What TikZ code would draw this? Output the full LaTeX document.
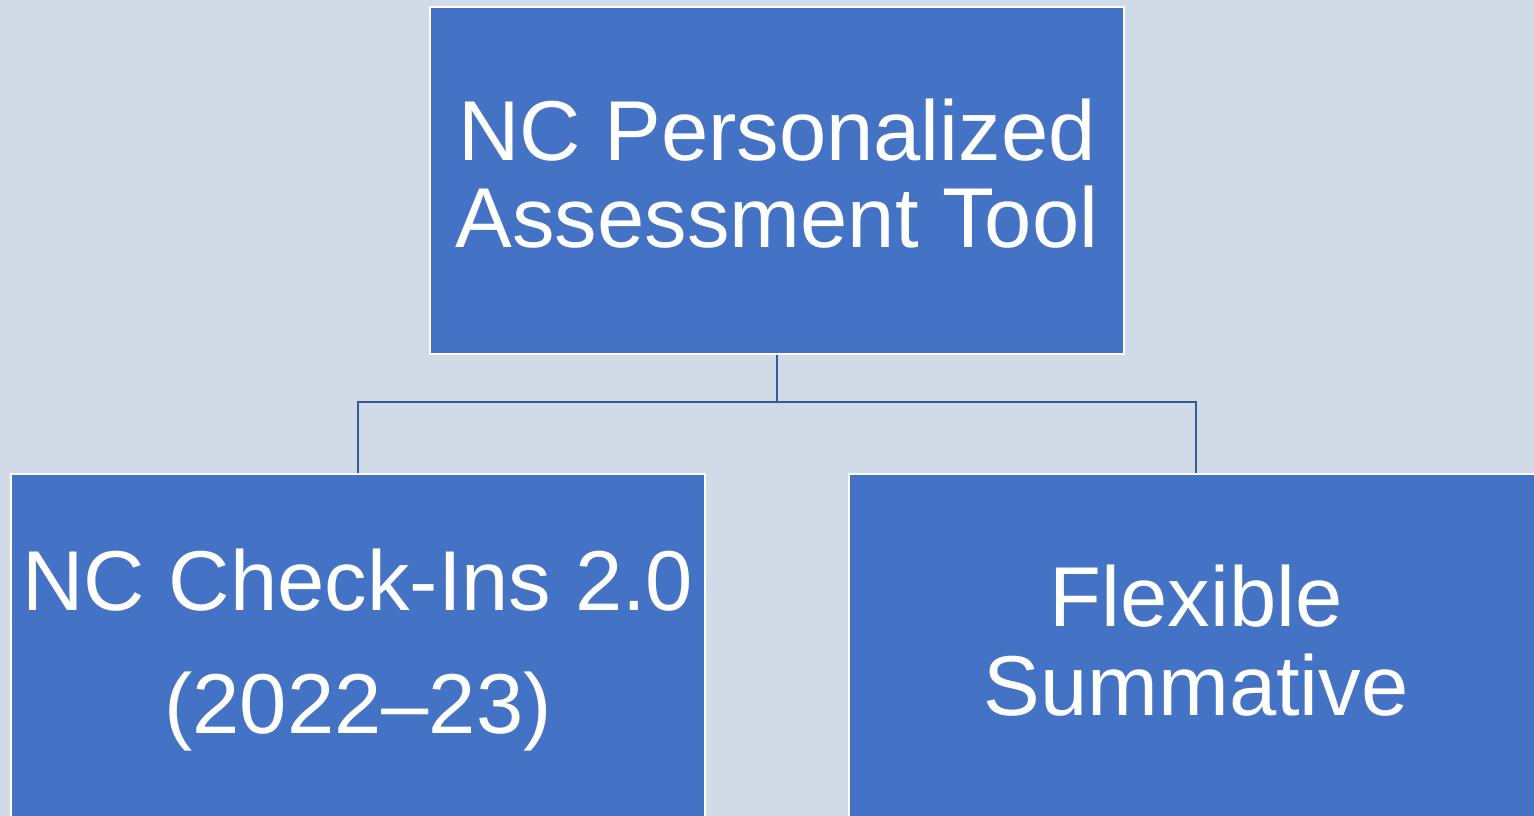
\documentclass[tikz,border=0pt]{standalone}
\usepackage{fontspec}
\setmainfont{Liberation Sans}
\definecolor{pagebg}{HTML}{D1DBE7}
\definecolor{boxfill}{HTML}{4472C4}
\definecolor{linkcol}{HTML}{345A9C}
\begin{document}
\begin{tikzpicture}[x=1pt,y=-1pt,
  orgbox/.style={draw=white, line width=2pt, fill=boxfill,
    minimum width=694pt, minimum height=347pt, inner sep=0pt},
  boxtext/.style={text=white, inner sep=0pt, align=center},
  link/.style={draw=linkcol, line width=2.4pt}]
  \useasboundingbox (0,0) rectangle (1534,816);
  \clip (0,0) rectangle (1534,816);
  \fill[pagebg] (0,0) rectangle (1534,816);
  % three boxes of the chart
  \node[orgbox] (top) at (777,180.5) {};
  \node[orgbox] (left) at (358,647.5) {};
  \node[orgbox] (right) at (1196,647.5) {};
  % their captions
  \node[boxtext, font=\fontsize{85}{87}\selectfont] (toptext)
    at ([yshift=7pt]top.center) {NC Personalized\\Assessment Tool};
  \node[boxtext, font=\fontsize{85}{123}\selectfont] (lefttext)
    at ([yshift=-2pt]left.center) {NC Check-Ins 2.0\\(2022–23)};
  \node[boxtext, font=\fontsize{85}{89}\selectfont] (righttext)
    at ([yshift=7pt]right.center) {Flexible\\Summative};
  % elbow connectors
  \draw[link] (top.south) -- ++(0,47) coordinate (j) -| (left.north);
  \draw[link] (j) -| (right.north);
\end{tikzpicture}
\end{document}
